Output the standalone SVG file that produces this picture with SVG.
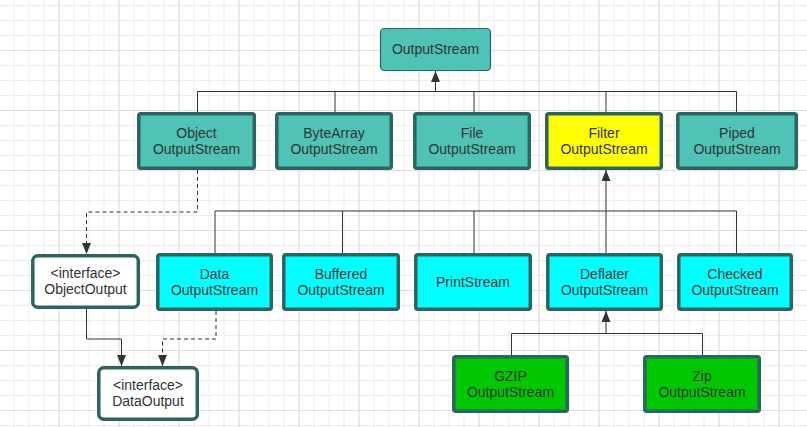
<svg xmlns="http://www.w3.org/2000/svg" width="807" height="427" viewBox="0 0 807 427">
<defs>
<pattern id="minor" x="13.5" y="5" width="15" height="15" patternUnits="userSpaceOnUse">
<path d="M0.5 0 V15 M0 0.5 H15" fill="none" stroke="#ececec" stroke-width="1"/>
</pattern>
<pattern id="major" x="58.5" y="50" width="60" height="60" patternUnits="userSpaceOnUse">
<path d="M0.5 0 V60 M0 0.5 H60" fill="none" stroke="#dedede" stroke-width="1"/>
</pattern>
<marker id="arr" markerUnits="userSpaceOnUse" markerWidth="11" markerHeight="9" refX="11" refY="4.5" orient="auto">
<path d="M0 0 L11 4.5 L0 9 Z" fill="#333"/>
</marker>
<style>
.n rect{stroke:#2b6460;stroke-width:3.5}
.teal{fill:#4fc3b6}
.cyan{fill:#00ffff}
.yel{fill:#ffff00}
.grn{fill:#00c800}
.wht{fill:#ffffff}
text{font-family:"Liberation Sans",Arial,sans-serif;font-size:14px;fill:#333;text-anchor:middle}
.c path{fill:none;stroke:#333;stroke-width:1}
.c .d{stroke-dasharray:4 3}
</style>
</defs>
<rect width="807" height="427" fill="#fff"/>
<rect width="807" height="427" fill="url(#minor)"/>
<rect width="807" height="427" fill="url(#major)"/>

<g class="c" id="connectors">
<path d="M197.5 112 V91.5 H736.5 V112 M335 91.5 V112 M474 91.5 V112 M606 91.5 V112"/>
<path d="M435.5 91.5 V71" marker-end="url(#arr)"/>
<path d="M215 253 V211 H736.5 V253 M342.5 211 V253 M474 211 V253"/>
<path d="M606 253 V170" marker-end="url(#arr)"/>
<path d="M511.5 355 V333.5 H702.5 V355"/>
<path d="M606 333.5 V311" marker-end="url(#arr)"/>
<path class="d" d="M197.5 170 V212 H86.5 V254" marker-end="url(#arr)"/>
<path d="M86.5 309 V339 H121.5 V366" marker-end="url(#arr)"/>
<path class="d" d="M216 311 V339 H162.5 V366" marker-end="url(#arr)"/>
</g>

<g class="n" id="OutputStream">
<rect x="380.5" y="28.5" width="110" height="42" rx="4" class="teal" style="stroke-width:1.2"/>
<text x="435.5" y="53.5">OutputStream</text>
</g>

<g class="n" id="ObjectOutputStream">
<rect x="138.8" y="113.8" width="115.5" height="54.5" rx="2" class="teal"/>
<text x="196.5" y="137.5">Object</text><text x="196.5" y="153.5">OutputStream</text>
</g>
<g class="n" id="ByteArrayOutputStream">
<rect x="276.8" y="113.8" width="114.5" height="54.5" rx="2" class="teal"/>
<text x="334" y="137.5">ByteArray</text><text x="334" y="153.5">OutputStream</text>
</g>
<g class="n" id="FileOutputStream">
<rect x="414.8" y="113.8" width="114.5" height="54.5" rx="2" class="teal"/>
<text x="472" y="137.5">File</text><text x="472" y="153.5">OutputStream</text>
</g>
<g class="n" id="FilterOutputStream">
<rect x="546.8" y="113.8" width="114.5" height="54.5" rx="2" class="yel"/>
<text x="604" y="137.5">Filter</text><text x="604" y="153.5">OutputStream</text>
</g>
<g class="n" id="PipedOutputStream">
<rect x="677.8" y="113.8" width="118.5" height="54.5" rx="2" class="teal"/>
<text x="737" y="137.5">Piped</text><text x="737" y="153.5">OutputStream</text>
</g>

<g class="n" id="ObjectOutput">
<rect x="32.8" y="255.8" width="105.5" height="51.5" rx="5" class="wht"/>
<text x="85.5" y="277.5">&lt;interface&gt;</text><text x="85.5" y="293.5">ObjectOutput</text>
</g>
<g class="n" id="DataOutputStream">
<rect x="157.8" y="254.8" width="113.5" height="54.5" rx="2" class="cyan"/>
<text x="214.5" y="278.5">Data</text><text x="214.5" y="294.5">OutputStream</text>
</g>
<g class="n" id="BufferedOutputStream">
<rect x="283.8" y="254.8" width="114.5" height="54.5" rx="2" class="cyan"/>
<text x="341" y="278.5">Buffered</text><text x="341" y="294.5">OutputStream</text>
</g>
<g class="n" id="PrintStream">
<rect x="415.8" y="254.8" width="114.5" height="54.5" rx="2" class="cyan"/>
<text x="473" y="286.5">PrintStream</text>
</g>
<g class="n" id="DeflaterOutputStream">
<rect x="547.8" y="254.8" width="113.5" height="54.5" rx="2" class="cyan"/>
<text x="604.5" y="278.5">Deflater</text><text x="604.5" y="294.5">OutputStream</text>
</g>
<g class="n" id="CheckedOutputStream">
<rect x="678.8" y="254.8" width="112.5" height="54.5" rx="2" class="cyan"/>
<text x="735" y="278.5">Checked</text><text x="735" y="294.5">OutputStream</text>
</g>

<g class="n" id="GZIPOutputStream">
<rect x="453.8" y="356.8" width="113.5" height="54.5" rx="2" class="grn"/>
<text x="510.5" y="380.5">GZIP</text><text x="510.5" y="396.5">OutputStream</text>
</g>
<g class="n" id="ZipOutputStream">
<rect x="644.8" y="356.8" width="114.5" height="54.5" rx="2" class="grn"/>
<text x="702" y="380.5">Zip</text><text x="702" y="396.5">OutputStream</text>
</g>

<g class="n" id="DataOutput">
<rect x="98.8" y="367.8" width="98.5" height="51.5" rx="5" class="wht"/>
<text x="148" y="389.5">&lt;interface&gt;</text><text x="148" y="405.5">DataOutput</text>
</g>
</svg>
